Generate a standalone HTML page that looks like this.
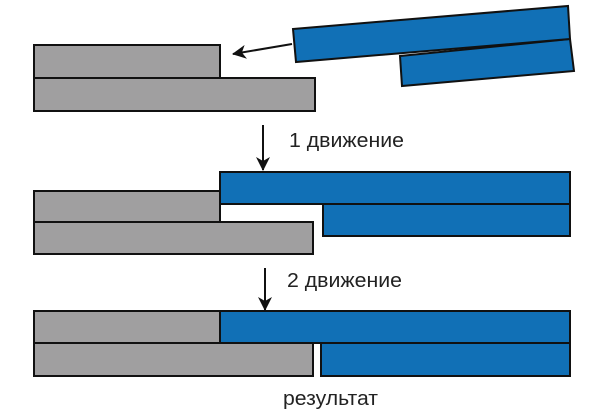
<!DOCTYPE html><html><head><style>body{margin:0;background:#fff}svg{display:block}</style></head><body>
<svg width="600" height="412" xmlns="http://www.w3.org/2000/svg" font-family="Liberation Sans, sans-serif">
<defs><marker id="a" markerWidth="14" markerHeight="14" refX="13" refY="7" orient="auto" markerUnits="userSpaceOnUse" viewBox="0 0 14 14"><path d="M0,0 L14,7 L0,14 L4,7z" fill="#111"/></marker></defs>
<g stroke="#111" stroke-width="2">
<rect x="34" y="45" width="186" height="33" fill="#a09fa0"/>
<rect x="34" y="78" width="281" height="33" fill="#a09fa0"/>
<polygon points="400,56 570,39 574,71 402,86" fill="#1170b6"/>
<polygon points="293,29 568,6 570,39 296,62" fill="#1170b6"/>
<line x1="292" y1="44" x2="233" y2="54" stroke-width="2" marker-end="url(#a)"/>

<rect x="34" y="191" width="186" height="31" fill="#a09fa0"/>
<rect x="34" y="222" width="279" height="32" fill="#a09fa0"/>
<rect x="220" y="172" width="350" height="32" fill="#1170b6"/>
<rect x="323" y="204" width="247" height="32" fill="#1170b6"/>
<line x1="263" y1="125" x2="263" y2="170" stroke-width="2" marker-end="url(#a)"/>

<rect x="34" y="311" width="186" height="32" fill="#a09fa0"/>
<rect x="34" y="343" width="279" height="33" fill="#a09fa0"/>
<rect x="220" y="311" width="350" height="32" fill="#1170b6"/>
<rect x="321" y="343" width="249" height="33" fill="#1170b6"/>
<line x1="265" y1="268" x2="265" y2="310" stroke-width="2" marker-end="url(#a)"/>
</g>
<g font-size="20" fill="#222">
<text x="289" y="147" textLength="115" lengthAdjust="spacingAndGlyphs">1 движение</text>
<text x="287" y="287" textLength="115" lengthAdjust="spacingAndGlyphs">2 движение</text>
<text x="283" y="405" textLength="95" lengthAdjust="spacingAndGlyphs">результат</text>
</g>
</svg></body></html>
